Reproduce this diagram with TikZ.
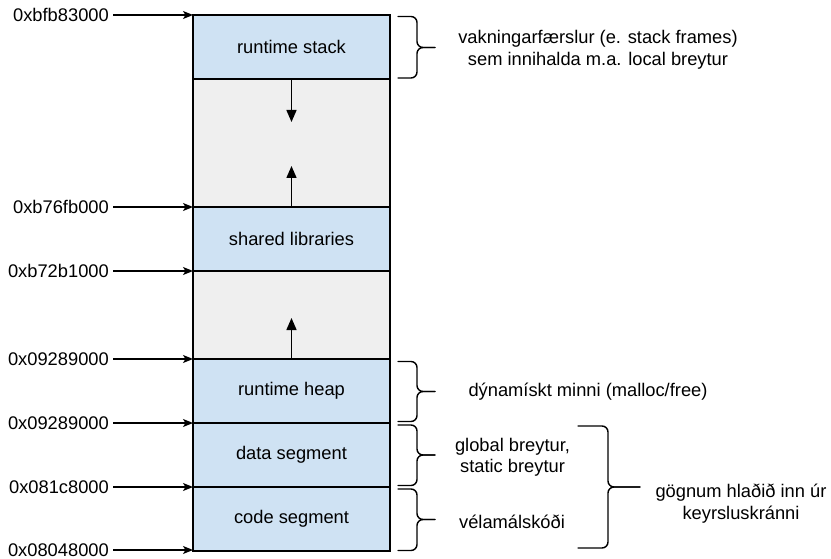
\documentclass[tikz,border=0pt]{standalone}
\usepackage{fontspec}
\setmainfont{Liberation Sans}
\usetikzlibrary{arrows.meta}
\definecolor{segblue}{HTML}{CFE2F3}
\definecolor{gapgray}{HTML}{EFEFEF}
\tikzset{
  seg/.style={draw=black, line width=1.5pt, fill=segblue},
  gap/.style={draw=black, line width=1.5pt, fill=gapgray},
  segtext/.style={font=\fontsize{18.3}{21.5}\selectfont, inner sep=0pt},
  addr/.style={font=\fontsize{18.3}{21.5}\selectfont, inner sep=0pt, anchor=east},
  note/.style={font=\fontsize{18.3}{21.5}\selectfont, inner sep=0pt, align=center},
  addrarrow/.style={-{Stealth[length=10pt,width=8pt,inset=2.5pt]}, line width=1.3pt},
  growarrow/.style={-{Triangle[length=12pt,width=10pt]}, line width=1.5pt},
  bracestyle/.style={line width=1.4pt, line cap=round, rounded corners=6pt}
}
% brace: #1 = x of arm start, #2 = top y, #3 = bottom y, #4 = vertical x, #5 = tip x, #6 = tip y
\newcommand{\mybrace}[6]{%
  \draw[bracestyle] (#1,#2) -- (#4,#2) -- (#4,#6) -- (#5,#6);
  \draw[bracestyle] (#1,#3) -- (#4,#3) -- (#4,#6) -- (#5,#6);
}
\begin{document}
\begin{tikzpicture}[x=1pt,y=-1pt]
\useasboundingbox (0,0) rectangle (831,559);
% segments
\draw[seg] (193,15) rectangle (390,79);
\draw[gap] (193,79) rectangle (390,207);
\draw[seg] (193,207) rectangle (390,271);
\draw[gap] (193,271) rectangle (390,359);
\draw[seg] (193,359) rectangle (390,423);
\draw[seg] (193,423) rectangle (390,487);
\draw[seg] (193,487) rectangle (390,551);
\node[segtext] (stack) at (291.5,47) {runtime stack};
\node[segtext] (shlib) at (291.5,239) {shared libraries};
\node[segtext] (heap) at (291.5,391) {runtime heap};
\node[segtext] (data) at (291.5,455) {data segment};
\node[segtext] (code) at (291.5,519) {code segment};
% growth arrows
\coordinate (s0) at (291.5,79);  \coordinate (s1) at (291.5,122);
\coordinate (l0) at (291.5,207); \coordinate (l1) at (291.5,166);
\coordinate (h0) at (291.5,359); \coordinate (h1) at (291.5,318);
\draw[growarrow] (s0) -- (s1);
\draw[growarrow] (l0) -- (l1);
\draw[growarrow] (h0) -- (h1);
% address labels
\foreach \y/\t/\n in {15/0xbfb83000/a1, 207/0xb76fb000/a2, 271/0xb72b1000/a3, 359/0x09289000/a4, 423/0x09289000/a5, 487/0x081c8000/a6, 550/0x08048000/a7}{
  \node[addr] (\n) at (109,\y) {\t};
  \coordinate (\n e) at (193,\y);
  \draw[addrarrow] ([xshift=4pt]\n.east |- 0,\y) -- (\n e);
}
% braces
\mybrace{398}{16.5}{78}{417}{435}{47.5}
\mybrace{398}{361.5}{421.5}{417}{435}{391.5}
\mybrace{398}{425}{485.5}{417}{435}{455}
\mybrace{398}{489}{550.5}{417}{435}{519.5}
\mybrace{578}{426}{548}{608}{640}{487}
% notes
\node[note] (n1) at (598,50) {vakningarfærslur (e. stack frames)\\sem innihalda m.a. local breytur};
\node[note] (n2) at (588,392) {dýnamískt minni (malloc/free)};
\node[note] (n3) at (512.5,457.5) {global breytur,\\static breytur};
\node[note] (n4) at (512,521.5) {vélamálskóði};
\node[note] (n5) at (741,503.5) {gögnum hlaðið inn úr\\keyrsluskránni};
\end{tikzpicture}
\end{document}
